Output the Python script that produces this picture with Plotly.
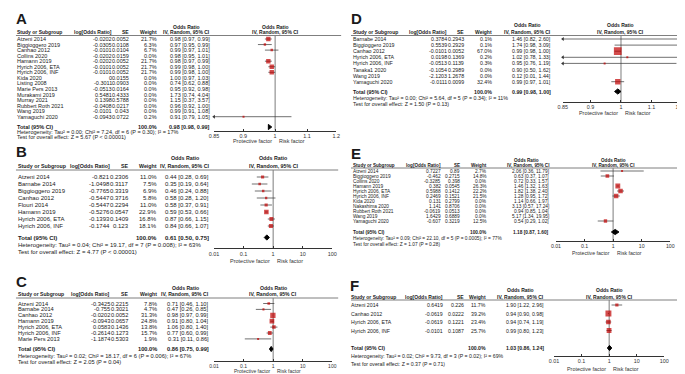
import math
import plotly.graph_objects as go

W, H = 685, 374

# ---------------- data ----------------
A_study = ["Atzeni 2014", "Biggioggero 2019", "Canhao 2012", "Collins 2020", "Hamann 2019",
           "Hyrich 2006, ETA", "Hyrich 2006, INF", "Kida 2020", "Listing 2008", "Marie Pers 2013",
           "Murakami 2019", "Murray 2021", "Rubbert Roth 2021", "Wang 2019", "Yamaguchi 2020"]
A_logor = [-0.0202, -0.0305, -0.0101, -0.0202, -0.0202, -0.0101, -0.0101, 0, -0.3011, -0.0513,
           0.5481, 0.1398, -0.0408, -0.0101, -0.0943]
A_se = [0.0052, 0.0108, 0.0104, 0.0159, 0.0052, 0.0052, 0.0052, 0.0155, 0.0903, 0.0164,
        0.4333, 0.5788, 0.0217, 0.043, 0.0722]
A_weight = [21.7, 6.3, 6.7, 0.0, 21.7, 21.7, 21.7, 0.0, 0.0, 0.0, 0.0, 0.0, 0.0, 0.0, 0.2]
A_or = [0.98, 0.97, 0.99, 0.98, 0.98, 0.99, 0.99, 1.00, 0.74, 0.95, 1.73, 1.15, 0.96, 0.99, 0.91]
A_lo = [0.97, 0.95, 0.97, 0.95, 0.97, 0.98, 0.98, 0.97, 0.62, 0.92, 0.74, 0.37, 0.92, 0.91, 0.79]
A_hi = [0.99, 0.99, 1.01, 1.01, 0.99, 1.00, 1.00, 1.03, 0.88, 0.98, 4.04, 3.57, 1.00, 1.08, 1.05]
A_total = [0.98, 0.98, 0.99]
A_het = "Heterogeneity: Tau² = 0.00; Chi² = 7.24, df = 6 (P = 0.30); I² = 17%"
A_test = "Test for overall effect: Z = 5.67 (P < 0.00001)"

B_study = ["Atzeni 2014", "Barnabe 2014", "Biggioggero 2019", "Canhao 2012", "Flouri 2014",
           "Hamann 2019", "Hyrich 2006, ETA", "Hyrich 2006, INF"]
B_logor = [-0.821, -1.0498, -0.7765, -0.5447, -0.5447, -0.5276, -0.1393, -0.1744]
B_se = [0.2306, 0.3117, 0.3319, 0.3716, 0.2294, 0.0547, 0.1409, 0.123]
B_weight = [11.0, 7.5, 6.9, 5.8, 11.0, 22.9, 16.8, 18.1]
B_or = [0.44, 0.35, 0.46, 0.58, 0.58, 0.59, 0.87, 0.84]
B_lo = [0.28, 0.19, 0.24, 0.28, 0.37, 0.53, 0.66, 0.66]
B_hi = [0.69, 0.64, 0.88, 1.20, 0.91, 0.66, 1.15, 1.07]
B_total = [0.61, 0.50, 0.75]
B_het = "Heterogeneity: Tau² = 0.04; Chi² = 19.17, df = 7 (P = 0.008); I² = 63%"
B_test = "Test for overall effect: Z = 4.77 (P < 0.00001)"

C_study = ["Atzeni 2014", "Barnabe 2014", "Canhao 2012", "Hamann 2019", "Hyrich 2006, ETA",
           "Hyrich 2006, INF", "Marie Pers 2013"]
C_logor = [-0.3425, -0.755, -0.0202, -0.0943, 0.0583, -0.2614, -1.1874]
C_se = [0.2215, 0.3021, 0.0052, 0.0657, 0.1436, 0.1273, 0.5303]
C_weight = [7.8, 4.7, 31.3, 24.8, 13.8, 15.7, 1.9]
C_or = [0.71, 0.47, 0.98, 0.91, 1.06, 0.77, 0.31]
C_lo = [0.46, 0.26, 0.97, 0.80, 0.80, 0.60, 0.11]
C_hi = [1.10, 0.85, 0.99, 1.04, 1.40, 0.99, 0.86]
C_total = [0.86, 0.75, 0.99]
C_het = "Heterogeneity: Tau² = 0.02; Chi² = 18.17, df = 6 (P = 0.006); I² = 67%"
C_test = "Test for overall effect: Z = 2.05 (P = 0.04)"

D_study = ["Barnabe 2014", "Biggioggero 2019", "Canhao 2012", "Hyrich 2006, ETA", "Hyrich 2006, INF",
           "Tanaka1 2020", "Wang 2019", "Yamaguchi 2020"]
D_logor = [0.3784, 0.5539, -0.0101, 0.0198, -0.0513, -0.1054, -2.1203, -0.0111]
D_se = [0.2943, 0.2929, 0.0052, 0.1369, 0.1139, 0.2989, 1.2678, 0.0099]
D_weight = [0.1, 0.1, 67.0, 0.2, 0.3, 0.0, 0.0, 32.4]
D_or = [1.46, 1.74, 0.99, 1.02, 0.95, 0.90, 0.12, 0.99]
D_lo = [0.82, 0.98, 0.98, 0.78, 0.76, 0.50, 0.01, 0.97]
D_hi = [2.60, 3.09, 1.00, 1.33, 1.19, 1.62, 1.44, 1.01]
D_total = [0.99, 0.98, 1.00]
D_het = "Heterogeneity: Tau² = 0.00; Chi² = 5.64, df = 5 (P = 0.34); I² = 11%"
D_test = "Test for overall effect: Z = 1.50 (P = 0.13)"

E_study = ["Atzeni 2014", "Biggioggero 2019", "Collins 2020", "Hamann 2019", "Hyrich 2006, ETA",
           "Hyrich 2006, INF", "Kida 2020", "Nakashima 2020", "Rubbert Roth 2021", "Wang 2019",
           "Yamaguchi 2020"]
E_logor = [0.7227, -0.462, -0.3285, 0.382, 0.5988, 0.2469, 0.131, 1.141, -0.0619, 1.6429, -0.607]
E_se = [0.89, 0.2715, 0.398, 0.0545, 0.1412, 0.1521, 0.2799, 0.8706, 0.0513, 0.6889, 0.3219]
E_weight = [2.7, 14.8, 0.0, 26.3, 22.2, 21.5, 0.0, 0.0, 0.0, 0.0, 12.5]
E_or = [2.06, 0.63, 0.72, 1.46, 1.82, 1.28, 1.14, 3.13, 0.94, 5.17, 0.54]
E_lo = [0.36, 0.37, 0.33, 1.32, 1.38, 0.95, 0.66, 0.57, 0.85, 1.34, 0.29]
E_hi = [11.79, 1.07, 1.57, 1.63, 2.40, 1.72, 1.97, 17.24, 1.04, 19.95, 1.02]
E_total = [1.18, 0.87, 1.60]
E_het = "Heterogeneity: Tau² = 0.09; Chi² = 22.10, df = 5 (P = 0.0005); I² = 77%"
E_test = "Test for overall effect: Z = 1.07 (P = 0.28)"

F_study = ["Atzeni 2014", "Canhao 2012", "Hyrich 2006, ETA", "Hyrich 2006, INF"]
F_logor = [0.6419, -0.0619, -0.0619, -0.0101]
F_se = [0.226, 0.0222, 0.1221, 0.1087]
F_weight = [11.7, 39.2, 23.4, 25.7]
F_or = [1.90, 0.94, 0.94, 0.99]
F_lo = [1.22, 0.90, 0.74, 0.80]
F_hi = [2.96, 0.98, 1.19, 1.23]
F_total = [1.03, 0.86, 1.24]
F_het = "Heterogeneity: Tau² = 0.02; Chi² = 9.73, df = 3 (P = 0.02); I² = 69%"
F_test = "Test for overall effect: Z = 0.37 (P = 0.71)"

NARROW_TICKS = [1 / 1.2, 1 / 1.1, 1, 1.1, 1.2]
NARROW_LABELS = ["0.85", "0.9", "1", "1.1", "1.2"]
WIDE_TICKS = [0.01, 0.1, 1, 10, 100]
WIDE_LABELS = ["0.01", "0.1", "1", "10", "100"]

# ---------------- layout config (pixels) ----------------
FONT = "Liberation Sans, Arial, sans-serif"

cfgs = {
    "A": dict(fs=5.5, hfs=5.0, tfs=5.4, lx=3, ly=10, h1=18.5, h2=23.8, line_y=27.5, lx0=3, lx1=333,
              y0=31, s=5.55, tot=119, het=124, test=128.8, axis_y=122.5, prot=132.5,
              cn=4, cl=100, cse=118, cw=146, cci=200, chc=176,
              fx=(204, 328), frange=(1 / 1.2, 1.2), ticks=(NARROW_TICKS, NARROW_LABELS)),
    "B": dict(fs=6.0, hfs=5.3, tfs=5.5, lx=3, ly=143, h1=150, h2=157.5, line_y=162, lx0=3, lx1=330,
              y0=169, s=7.0, tot=229.5, het=237, test=244, axis_y=240, prot=253,
              cn=5, cl=98, cse=118, cw=146, cci=199, chc=175,
              fx=(204, 324), frange=(0.01, 100), ticks=(WIDE_TICKS, WIDE_LABELS)),
    "C": dict(fs=5.7, hfs=5.1, tfs=5.0, lx=3, ly=273, h1=280, h2=286.2, line_y=290, lx0=3, lx1=330,
              y0=295.5, s=5.9, tot=341, het=348, test=354, axis_y=353, prot=363,
              cn=5, cl=98, cse=117, cw=146, cci=199, chc=175,
              fx=(204, 324), frange=(0.01, 100), ticks=(WIDE_TICKS, WIDE_LABELS)),
    "D": dict(fs=5.3, hfs=5.0, tfs=5.4, lx=343, ly=10, h1=17, h2=23.5, line_y=27.5, lx0=343, lx1=683,
              y0=31, s=6.1, tot=83.5, het=89.5, test=96, axis_y=94, prot=104.5,
              cn=345, cl=440, cse=458, cw=486, cci=546, chc=522,
              fx=(558, 676), frange=(1 / 1.2, 1.2), ticks=(NARROW_TICKS, NARROW_LABELS)),
    "E": dict(fs=4.8, hfs=4.6, tfs=5.2, lx=343, ly=145, h1=152, h2=157, line_y=160, lx0=343, lx1=683,
              y0=163, s=5.0, tot=224, het=230.5, test=236, axis_y=233, prot=245,
              cn=345, cl=434, cse=454, cw=481, cci=544, chc=521,
              fx=(551, 667), frange=(0.01, 100), ticks=(WIDE_TICKS, WIDE_LABELS)),
    "F": dict(fs=5.2, hfs=5.0, tfs=5.4, lx=342, ly=277, h1=282, h2=288.5, line_y=292, lx0=343, lx1=683,
              y0=297, s=8.5, tot=340, het=348, test=356, axis_y=348, prot=361,
              cn=343, cl=436, cse=458, cw=480, cci=539, chc=515,
              fx=(549, 661), frange=(0.01, 100), ticks=(WIDE_TICKS, WIDE_LABELS)),
}

panels = [
    ("A", A_study, A_logor, A_se, A_weight, A_or, A_lo, A_hi, A_total, A_het, A_test),
    ("D", D_study, D_logor, D_se, D_weight, D_or, D_lo, D_hi, D_total, D_het, D_test),
    ("B", B_study, B_logor, B_se, B_weight, B_or, B_lo, B_hi, B_total, B_het, B_test),
    ("E", E_study, E_logor, E_se, E_weight, E_or, E_lo, E_hi, E_total, E_het, E_test),
    ("C", C_study, C_logor, C_se, C_weight, C_or, C_lo, C_hi, C_total, C_het, C_test),
    ("F", F_study, F_logor, F_se, F_weight, F_or, F_lo, F_hi, F_total, F_het, F_test),
]

fig = go.Figure()
annotations = []
shapes = []
axes = {}

RED = "#c00000"
INK = "#1a1a1a"
LINE = "#333333"


def fmt_g(v):
    return f"{v:g}"


for k, (name, study, logor, se, weight, orv, lo, hi, total, het, test) in enumerate(panels, start=1):
    c = cfgs[name]
    xa = "x" if k == 1 else f"x{k}"
    ya = "y" if k == 1 else f"y{k}"
    y0, s = c["y0"], c["s"]

    def row(p, y0=y0, s=s):
        return (p - y0) / s

    fs, hfs = c["fs"], c["hfs"]

    def txt(xpx, y, t, anchor="left", bold=False, size=None, ya=ya):
        annotations.append(dict(
            x=xpx / W, xref="paper", y=y, yref=ya,
            text=f"<b>{t}</b>" if bold else t, showarrow=False,
            xanchor=anchor, yanchor="middle", borderpad=0, borderwidth=0,
            font=dict(family=FONT, size=size or fs, color=INK)))

    # panel letter
    txt(c["lx"], row(c["ly"]), name, bold=True, size=15)
    # table headers
    txt(c["chc"], row(c["h1"]), "Odds Ratio", anchor="center", bold=True, size=hfs)
    txt(c["cn"], row(c["h2"]), "Study or Subgroup", bold=True, size=hfs)
    txt(c["cl"], row(c["h2"]), "log[Odds Ratio]", anchor="right", bold=True, size=hfs)
    txt(c["cse"], row(c["h2"]), "SE", anchor="right", bold=True, size=hfs)
    txt(c["cw"], row(c["h2"]), "Weight", anchor="right", bold=True, size=hfs)
    txt(c["cci"], row(c["h2"]), "IV, Random, 95% CI", anchor="right", bold=True, size=hfs)

    # forest headers centred on OR = 1
    for hy, ht in ((c["h1"], "Odds Ratio"), (c["h2"], "IV, Random, 95% CI")):
        annotations.append(dict(x=0, xref=xa, y=row(hy), yref=ya, text=f"<b>{ht}</b>",
                                showarrow=False, xanchor="center", yanchor="middle", borderpad=0,
                                font=dict(family=FONT, size=hfs, color=INK)))

    # header rule
    shapes.append(dict(type="line", xref="paper", yref="paper",
                       x0=c["lx0"] / W, x1=c["lx1"] / W,
                       y0=1 - c["line_y"] / H, y1=1 - c["line_y"] / H,
                       line=dict(color="#7f7f7f", width=1)))

    # study rows
    for i in range(len(study)):
        txt(c["cn"], i, study[i])
        txt(c["cl"], i, fmt_g(logor[i]), anchor="right")
        txt(c["cse"], i, fmt_g(se[i]), anchor="right")
        txt(c["cw"], i, f"{weight[i]:.1f}%", anchor="right")
        txt(c["cci"], i, f"{orv[i]:.2f} [{lo[i]:.2f}, {hi[i]:.2f}]", anchor="right")

    # total + stats
    txt(c["cn"], row(c["tot"]), "Total (95% CI)", bold=True)
    txt(c["cw"], row(c["tot"]), "100.0%", anchor="right", bold=True)
    txt(c["cci"], row(c["tot"]), f"{total[0]:.2f} [{total[1]:.2f}, {total[2]:.2f}]", anchor="right", bold=True)
    txt(c["cn"], row(c["het"]), het)
    txt(c["cn"], row(c["test"]), test)

    # ---- forest plot ----
    xmin, xmax = c["frange"]
    inc = [i for i in range(len(study)) if weight[i] > 0]

    # vertical line of no effect
    fig.add_trace(go.Scatter(x=[1, 1], y=[row(c["line_y"]), row(c["axis_y"])], mode="lines",
                             line=dict(color="#444444", width=0.7), xaxis=xa, yaxis=ya,
                             hoverinfo="skip", showlegend=False))
    # CI lines
    lx, ly = [], []
    for i in inc:
        lx += [lo[i], hi[i], None]
        ly += [i, i, None]
    fig.add_trace(go.Scatter(x=lx, y=ly, mode="lines", line=dict(color=LINE, width=0.7),
                             xaxis=xa, yaxis=ya, hoverinfo="skip", showlegend=False))
    # squares
    fig.add_trace(go.Scatter(x=[orv[i] for i in inc], y=inc, mode="markers",
                             marker=dict(symbol="square", color=RED,
                                         size=[max(2.0, 0.95 * math.sqrt(weight[i])) for i in inc],
                                         line=dict(width=0)),
                             xaxis=xa, yaxis=ya, hoverinfo="skip", showlegend=False))
    # arrows for CIs running off the scale
    ax_, ay_, asym = [], [], []
    for i in inc:
        if lo[i] < xmin:
            ax_.append(xmin); ay_.append(i); asym.append("triangle-left")
        if hi[i] > xmax:
            ax_.append(xmax); ay_.append(i); asym.append("triangle-right")
    if ax_:
        fig.add_trace(go.Scatter(x=ax_, y=ay_, mode="markers", cliponaxis=False,
                                 marker=dict(symbol=asym, color=LINE, size=3.5, line=dict(width=0)),
                                 xaxis=xa, yaxis=ya, hoverinfo="skip", showlegend=False))
    # total diamond
    rt = row(c["tot"])
    hh = 2.6 / s
    fig.add_trace(go.Scatter(x=[total[1], total[0], total[2], total[0], total[1]],
                             y=[rt, rt - hh, rt, rt + hh, rt], mode="lines", fill="toself",
                             fillcolor="black", line=dict(color="black", width=1),
                             xaxis=xa, yaxis=ya, hoverinfo="skip", showlegend=False))

    # protective / risk labels
    for t, anc, sh in (("Protective factor", "right", -2), ("Risk factor", "left", 3)):
        annotations.append(dict(x=0, xref=xa, y=row(c["prot"]), yref=ya, text=t, showarrow=False,
                                xanchor=anc, yanchor="middle", xshift=sh, borderpad=0,
                                font=dict(family=FONT, size=c["tfs"], color="#333333")))

    tv, tt = c["ticks"]
    axes["xaxis" if k == 1 else f"xaxis{k}"] = dict(
        type="log", domain=[c["fx"][0] / W, c["fx"][1] / W],
        range=[math.log10(xmin), math.log10(xmax)],
        anchor="free", position=1 - c["axis_y"] / H,
        showline=True, linecolor="#333333", linewidth=0.8,
        ticks="inside", ticklen=2, tickwidth=0.8, tickcolor="#333333",
        tickvals=tv, ticktext=tt, tickfont=dict(family=FONT, size=c["tfs"], color="#333333"),
        showgrid=False, zeroline=False, fixedrange=True)
    axes["yaxis" if k == 1 else f"yaxis{k}"] = dict(
        domain=[0, 1], range=[(H - y0) / s, (0 - y0) / s], visible=False,
        anchor=xa, showgrid=False, zeroline=False, fixedrange=True)

fig.update_layout(width=W, height=H, margin=dict(l=0, r=0, t=0, b=0),
                  paper_bgcolor="white", plot_bgcolor="rgba(0,0,0,0)", showlegend=False,
                  annotations=annotations, shapes=shapes, **axes)

fig.write_html("out.html")
